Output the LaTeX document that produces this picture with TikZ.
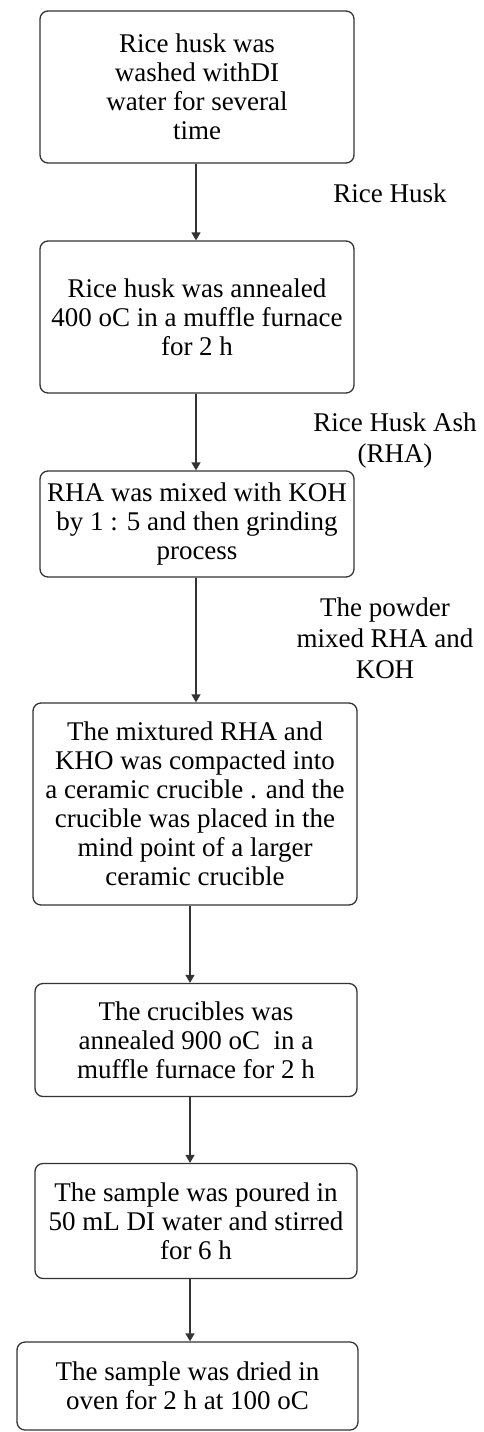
\documentclass[tikz,border=0pt]{standalone}
\usepackage{fontspec}
\setmainfont{Liberation Serif}
\usetikzlibrary{arrows.meta}
\definecolor{linec}{HTML}{333333}
\tikzset{
  stepbox/.style={draw=linec, line width=1.3pt, rounded corners=8pt, align=center, inner sep=0pt,
    font=\fontsize{27}{29}\selectfont},
  lbl/.style={align=center, inner sep=0pt, font=\fontsize{27}{31}\selectfont},
  arr/.style={draw=linec, line width=1.3pt, -{Triangle[width=9pt,length=8pt]}}
}
\begin{document}
\begin{tikzpicture}[x=1pt,y=-1pt]
\useasboundingbox (0,0) rectangle (483,1432);
\node[stepbox, minimum width=314pt, minimum height=152pt] (b1) at (197,87)
  {Rice husk was\\washed withDI\\water for several\\time};
\node[stepbox, minimum width=314pt, minimum height=152pt] (b2) at (197,317)
  {Rice husk was annealed\\400 oC in a muffle furnace\\for 2 h};
\node[stepbox, minimum width=314pt, minimum height=106pt] (b3) at (197,524)
  {RHA was mixed with KOH\\by 1 : 5 and then grinding\\process};
\node[stepbox, minimum width=324pt, minimum height=202pt] (b4) at (195,804)
  {The mixtured RHA and\\KHO was compacted into\\a ceramic crucible . and the\\crucible was placed in the\\mind point of a larger\\ceramic crucible};
\node[stepbox, minimum width=322pt, minimum height=113pt] (b5) at (196,1040)
  {The crucibles was\\annealed 900 oC \ in a\\muffle furnace for 2 h};
\node[stepbox, minimum width=322pt, minimum height=115pt] (b6) at (196,1221)
  {The sample was poured in\\50 mL DI water and stirred\\for 6 h};
\node[stepbox, minimum width=341pt, minimum height=88pt] (b7) at (187.5,1386)
  {The sample was dried in\\oven for 2 h at 100 oC};
\node[lbl] (l1) at (390,193) {Rice Husk};
\node[lbl] (l2) at (395,441) {Rice Husk Ash\\(RHA)};
\node[lbl] (l3) at (385,638) {The powder\\mixed RHA and\\KOH};
\draw[arr] ([xshift=-1pt]b1.south) -- ([xshift=-1pt]b2.north);
\draw[arr] ([xshift=-1pt]b2.south) -- ([xshift=-1pt]b3.north);
\draw[arr] ([xshift=-1pt]b3.south) -- ([xshift=1pt]b4.north);
\draw[arr] ([xshift=-5pt]b4.south) -- ([xshift=-6pt]b5.north);
\draw[arr] ([xshift=-6pt]b5.south) -- ([xshift=-6pt]b6.north);
\draw[arr] ([xshift=-6pt]b6.south) -- ([xshift=2.5pt]b7.north);
\end{tikzpicture}
\end{document}
